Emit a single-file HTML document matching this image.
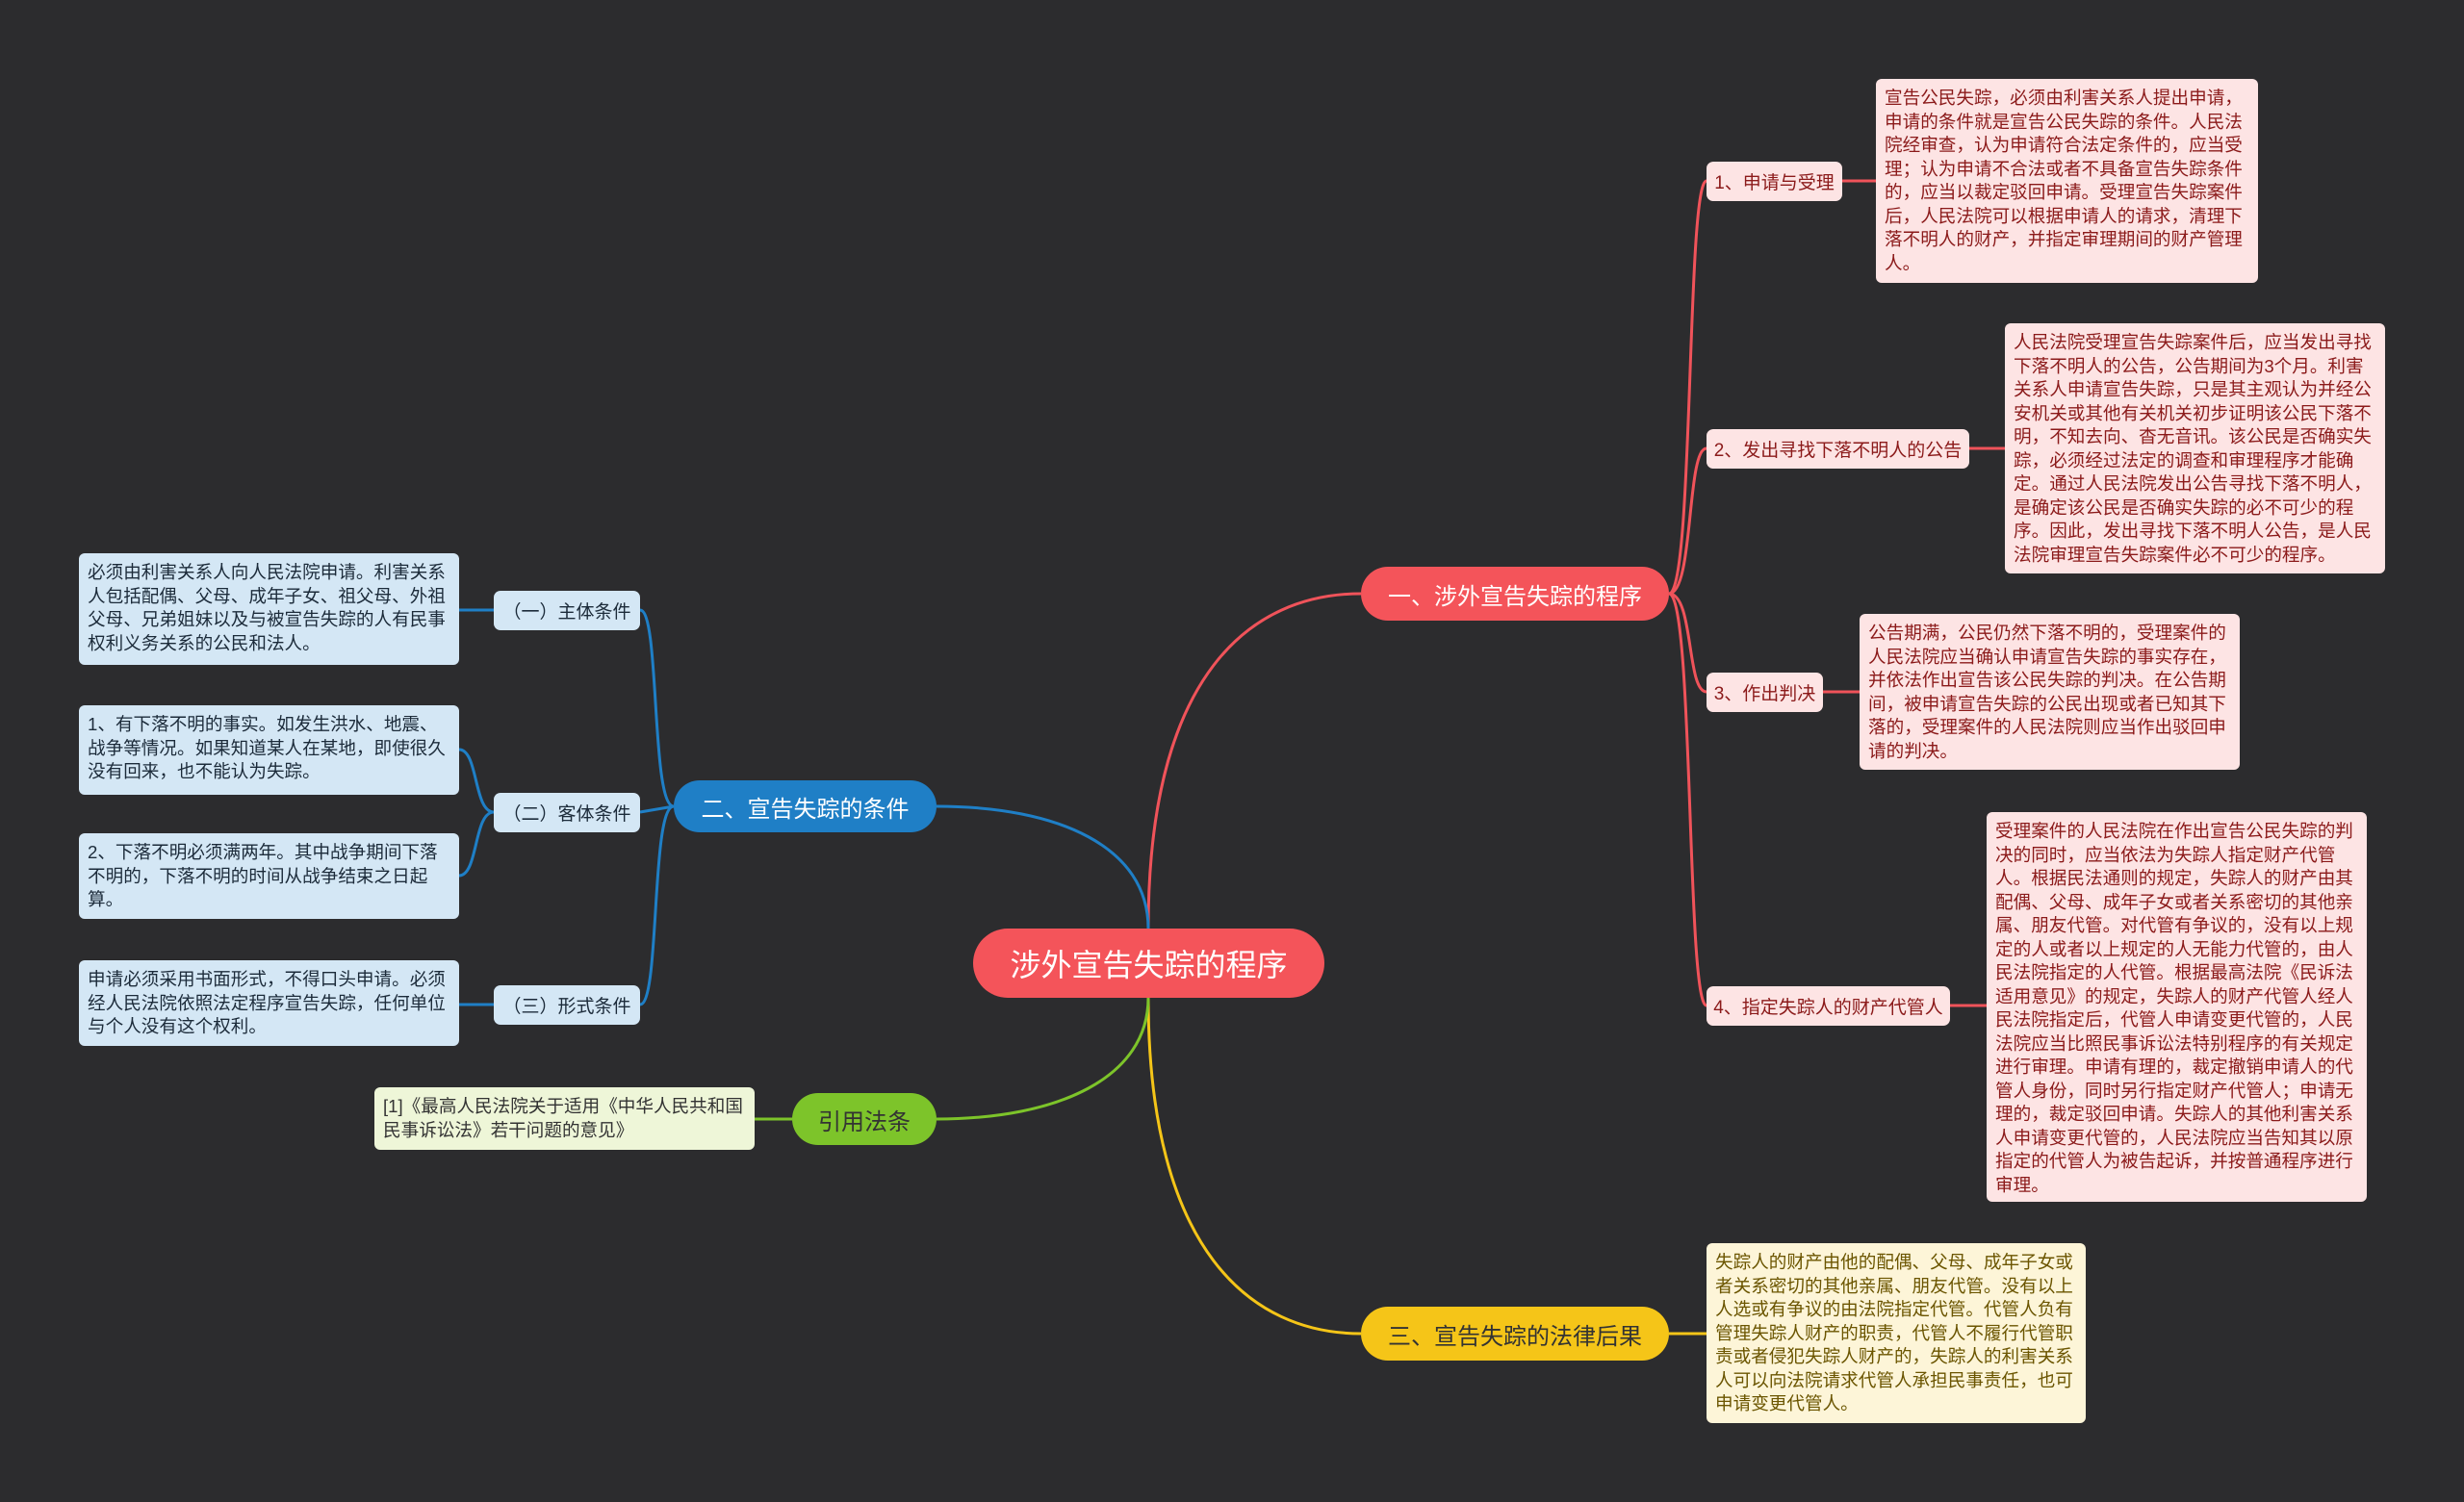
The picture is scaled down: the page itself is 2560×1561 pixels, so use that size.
<!DOCTYPE html>
<html><head><meta charset="utf-8">
<style>
body{margin:0;width:2560px;height:1561px;background:#2c2c2e;position:relative;overflow:hidden;font-family:"Liberation Sans","Noto Sans CJK SC",sans-serif;}
.b{position:absolute;box-sizing:border-box;display:flex;align-items:center;justify-content:center;white-space:nowrap;}
.t{position:absolute;box-sizing:border-box;border-radius:6px;padding:8px 9px;font-size:18.6px;line-height:24.5px;word-break:break-all;}
.pk{background:#fde4e4;color:#8b1a1a;}
.bl{background:#d4e7f5;color:#1c2b3a;}
.ye{background:#fdf5d8;color:#6b5500;}
.gr{background:#eef6d8;color:#333;}
.l2{border-radius:7px;font-size:19px;}
svg{position:absolute;left:0;top:0;}
</style></head><body>
<svg width="2560" height="1561" fill="none" stroke-width="3">
<path d="M1193 965 C1193 700 1300 617 1414 617" stroke="#f0535a"/>
<path d="M1193 965 C1193 880 1100 838 973 838" stroke="#1f7fc6"/>
<path d="M1193 1037 C1193 1300 1300 1386 1414 1386" stroke="#f5c518"/>
<path d="M1193 1037 C1193 1120 1100 1163 973 1163" stroke="#7dc42a"/>
<g stroke="#f0535a">
<path d="M1734 617 C1760 617 1752 188 1773 188"/>
<path d="M1734 617 C1760 617 1752 466 1773 466"/>
<path d="M1734 617 C1760 617 1752 719 1773 719"/>
<path d="M1734 617 C1760 617 1752 1045 1773 1045"/>
<path d="M1914 188 L1949 188 M2046 466 L2083 466 M1894 719 L1932 719 M2026 1045 L2064 1045"/>
</g>
<path d="M1734 1386 L1773 1386" stroke="#f5c518"/>
<g stroke="#1f7fc6">
<path d="M700 838 C676 838 686 634 665 634"/>
<path d="M700 838 L665 844"/>
<path d="M700 838 C676 838 686 1044 665 1044"/>
<path d="M513 634 L477 634 M513 1044 L477 1044"/>
<path d="M513 844 C492 844 497 779 477 779 M513 844 C492 844 497 910 477 910"/>
</g>
<path d="M823 1163 L784 1163" stroke="#7dc42a"/>
</svg>

<div class="b" style="left:1011px;top:965px;width:365px;height:72px;border-radius:36px;background:#f4545a;color:#fff;font-size:32px;">涉外宣告失踪的程序</div>
<div class="b" style="left:1414px;top:589px;width:320px;height:56px;border-radius:28px;background:#f4545a;color:#fff;font-size:24px;">一、涉外宣告失踪的程序</div>
<div class="b" style="left:700px;top:811px;width:273px;height:54px;border-radius:27px;background:#1f7fc6;color:#fff;font-size:24px;">二、宣告失踪的条件</div>
<div class="b" style="left:1414px;top:1358px;width:320px;height:56px;border-radius:28px;background:#f5c518;color:#333;font-size:24px;">三、宣告失踪的法律后果</div>
<div class="b" style="left:823px;top:1136px;width:150px;height:54px;border-radius:27px;background:#7dc42a;color:#333;font-size:24px;">引用法条</div>

<div class="b l2 pk" style="left:1773px;top:168px;width:141px;height:41px;">1、申请与受理</div>
<div class="b l2 pk" style="left:1773px;top:446px;width:273px;height:41px;">2、发出寻找下落不明人的公告</div>
<div class="b l2 pk" style="left:1773px;top:699px;width:121px;height:41px;">3、作出判决</div>
<div class="b l2 pk" style="left:1773px;top:1025px;width:253px;height:41px;">4、指定失踪人的财产代管人</div>

<div class="t pk" style="left:1949px;top:82px;width:397px;height:212px;">宣告公民失踪，必须由利害关系人提出申请，申请的条件就是宣告公民失踪的条件。人民法院经审查，认为申请符合法定条件的，应当受理；认为申请不合法或者不具备宣告失踪条件的，应当以裁定驳回申请。受理宣告失踪案件后，人民法院可以根据申请人的请求，清理下落不明人的财产，并指定审理期间的财产管理人。</div>
<div class="t pk" style="left:2083px;top:336px;width:395px;height:260px;">人民法院受理宣告失踪案件后，应当发出寻找下落不明人的公告，公告期间为3个月。利害关系人申请宣告失踪，只是其主观认为并经公安机关或其他有关机关初步证明该公民下落不明，不知去向、杳无音讯。该公民是否确实失踪，必须经过法定的调查和审理程序才能确定。通过人民法院发出公告寻找下落不明人，是确定该公民是否确实失踪的必不可少的程序。因此，发出寻找下落不明人公告，是人民法院审理宣告失踪案件必不可少的程序。</div>
<div class="t pk" style="left:1932px;top:638px;width:395px;height:162px;">公告期满，公民仍然下落不明的，受理案件的人民法院应当确认申请宣告失踪的事实存在，并依法作出宣告该公民失踪的判决。在公告期间，被申请宣告失踪的公民出现或者已知其下落的，受理案件的人民法院则应当作出驳回申请的判决。</div>
<div class="t pk" style="left:2064px;top:844px;width:395px;height:405px;">受理案件的人民法院在作出宣告公民失踪的判决的同时，应当依法为失踪人指定财产代管人。根据民法通则的规定，失踪人的财产由其配偶、父母、成年子女或者关系密切的其他亲属、朋友代管。对代管有争议的，没有以上规定的人或者以上规定的人无能力代管的，由人民法院指定的人代管。根据最高法院《民诉法适用意见》的规定，失踪人的财产代管人经人民法院指定后，代管人申请变更代管的，人民法院应当比照民事诉讼法特别程序的有关规定进行审理。申请有理的，裁定撤销申请人的代管人身份，同时另行指定财产代管人；申请无理的，裁定驳回申请。失踪人的其他利害关系人申请变更代管的，人民法院应当告知其以原指定的代管人为被告起诉，并按普通程序进行审理。</div>
<div class="t ye" style="left:1773px;top:1292px;width:394px;height:187px;">失踪人的财产由他的配偶、父母、成年子女或者关系密切的其他亲属、朋友代管。没有以上人选或有争议的由法院指定代管。代管人负有管理失踪人财产的职责，代管人不履行代管职责或者侵犯失踪人财产的，失踪人的利害关系人可以向法院请求代管人承担民事责任，也可申请变更代管人。</div>

<div class="b l2 bl" style="left:513px;top:614px;width:152px;height:41px;">（一）主体条件</div>
<div class="b l2 bl" style="left:513px;top:824px;width:152px;height:41px;">（二）客体条件</div>
<div class="b l2 bl" style="left:513px;top:1024px;width:152px;height:41px;">（三）形式条件</div>
<div class="t bl" style="left:82px;top:575px;width:395px;height:116px;">必须由利害关系人向人民法院申请。利害关系人包括配偶、父母、成年子女、祖父母、外祖父母、兄弟姐妹以及与被宣告失踪的人有民事权利义务关系的公民和法人。</div>
<div class="t bl" style="left:82px;top:733px;width:395px;height:93px;">1、有下落不明的事实。如发生洪水、地震、战争等情况。如果知道某人在某地，即使很久没有回来，也不能认为失踪。</div>
<div class="t bl" style="left:82px;top:866px;width:395px;height:89px;">2、下落不明必须满两年。其中战争期间下落不明的，下落不明的时间从战争结束之日起算。</div>
<div class="t bl" style="left:82px;top:998px;width:395px;height:89px;">申请必须采用书面形式，不得口头申请。必须经人民法院依照法定程序宣告失踪，任何单位与个人没有这个权利。</div>
<div class="t gr" style="left:389px;top:1130px;width:395px;height:65px;">[1]《最高人民法院关于适用《中华人民共和国民事诉讼法》若干问题的意见》</div>
</body></html>
